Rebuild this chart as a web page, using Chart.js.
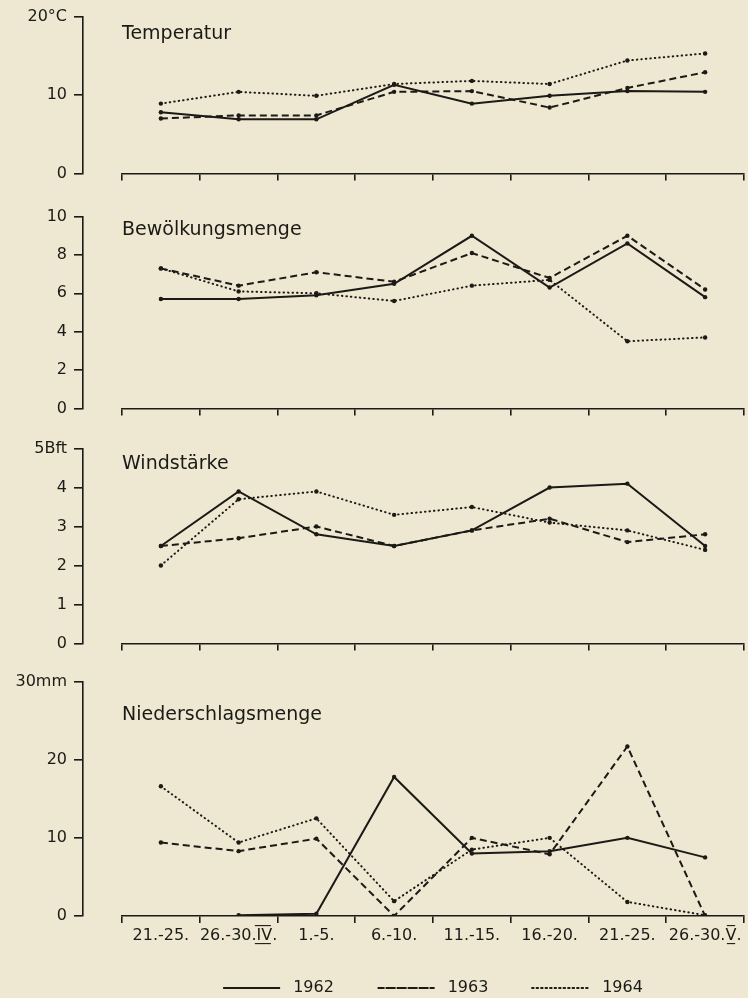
<!DOCTYPE html>
<html>
<head>
<meta charset="utf-8">
<script src="https://cdn.jsdelivr.net/npm/chart.js@4.4.1/dist/chart.umd.min.js"></script>
<style>
  body { margin: 0; background: #eee7d1; width: 748px; height: 998px; position: relative; overflow: hidden; }
  canvas { position: absolute; left: 0; }
</style>
</head>
<body>
<canvas id="temp"></canvas>
<canvas id="cloud"></canvas>
<canvas id="wind"></canvas>
<canvas id="rain"></canvas>
<script>
// periods (late April to end of May)
const categories = ["21.-25.", "26.-30.I\u0332\u0305V\u0332\u0305.", "1.-5.", "6.-10.", "11.-15.", "16.-20.", "21.-25.", "26.-30.V\u0332\u0305."];
const years = ["1962", "1963", "1964"];

const temp1962 = [7.8, 6.9, 6.9, 11.3, 8.9, 9.9, 10.5, 10.4];
const temp1963 = [7.0, 7.4, 7.4, 10.4, 10.5, 8.4, 10.9, 12.9];
const temp1964 = [8.9, 10.4, 9.9, 11.4, 11.8, 11.4, 14.4, 15.3];

const cloud1962 = [5.7, 5.7, 5.9, 6.5, 9.0, 6.3, 8.6, 5.8];
const cloud1963 = [7.3, 6.4, 7.1, 6.6, 8.1, 6.8, 9.0, 6.2];
const cloud1964 = [7.3, 6.1, 6.0, 5.6, 6.4, 6.7, 3.5, 3.7];

const wind1962 = [2.5, 3.9, 2.8, 2.5, 2.9, 4.0, 4.1, 2.5];
const wind1963 = [2.5, 2.7, 3.0, 2.5, 2.9, 3.2, 2.6, 2.8];
const wind1964 = [2.0, 3.7, 3.9, 3.3, 3.5, 3.1, 2.9, 2.4];

const rain1962 = [null, 0.1, 0.3, 17.8, 8.0, 8.3, 10.0, 7.5];
const rain1963 = [9.4, 8.3, 9.9, 0, 10.0, 7.9, 21.7, 0];
const rain1964 = [16.6, 9.4, 12.5, 1.9, 8.5, 10.0, 1.8, 0.1];

const ink = "#1b1a17";
Chart.defaults.font.family = '"DejaVu Sans", sans-serif';
Chart.defaults.font.size = 16;
Chart.defaults.color = ink;

const styles = [
    { borderDash: [], capStyle: "butt" },
    { borderDash: [7, 4], capStyle: "butt" },
    { borderDash: [0.5, 4], capStyle: "round" }
];

// title text sits inside the plot, under the top tick
const panelTitle = {
    id: "panelTitle",
    afterDraw(chart, args, opts) {
        const { ctx, chartArea } = chart;
        ctx.save();
        ctx.font = '19px "DejaVu Sans"';
        ctx.fillStyle = ink;
        ctx.textBaseline = "middle";
        ctx.fillText(opts.text, chartArea.left, chartArea.top + opts.dy);
        ctx.restore();
    }
};

function makePanel(id, title, dy, series, yMax, step, unit, top, height, padTop, last) {
    const cv = document.getElementById(id);
    cv.width = 748;
    cv.height = height;
    cv.style.top = top + "px";
    const datasets = series.map((vals, i) => ({
        label: years[i],
        data: vals,
        borderColor: ink,
        backgroundColor: "transparent",
        borderWidth: 2,
        borderDash: styles[i].borderDash,
        borderCapStyle: styles[i].capStyle,
        pointRadius: 2.2,
        pointBackgroundColor: ink,
        pointBorderWidth: 0,
        fill: false,
        tension: 0,
        spanGaps: false
    }));
    return new Chart(cv, {
        type: "line",
        data: { labels: categories, datasets: datasets },
        options: {
            responsive: false,
            devicePixelRatio: 1,
            animation: false,
            layout: { padding: { top: padTop, left: 0, right: 2, bottom: last ? 0 : 3 } },
            scales: {
                x: {
                    offset: true,
                    border: { display: true, color: ink, width: 1.6 },
                    grid: { display: true, offset: true, drawOnChartArea: false, drawTicks: true, tickLength: 7, color: ink, lineWidth: 1.6 },
                    ticks: { display: last, padding: 3, maxRotation: 0, autoSkip: false, font: { size: 16 } },
                    afterFit: last ? (s) => { s.height = 61; } : undefined
                },
                y: {
                    position: "left",
                    weight: 10,
                    min: 0,
                    max: yMax,
                    border: { display: true, color: ink, width: 1.6 },
                    grid: { display: true, drawOnChartArea: false, drawTicks: true, tickLength: 9, color: ink, lineWidth: 1.6 },
                    ticks: {
                        stepSize: step,
                        padding: 7,
                        font: { size: 16 },
                        callback: (v) => v === yMax ? v + unit : v
                    },
                    afterFit: (s) => { s.width = 83; }
                },
                gap: {
                    type: "linear",
                    position: "left",
                    weight: 0,
                    display: true,
                    border: { display: false },
                    grid: { display: false },
                    ticks: { display: false },
                    afterFit: (s) => { s.width = 39; }
                }
            },
            plugins: {
                panelTitle: { text: title, dy: dy },
                tooltip: { enabled: false },
                legend: {
                    display: last,
                    position: "bottom",
                    fullSize: false,
                    labels: {
                        boxWidth: 57,
                        boxHeight: 0,
                        padding: 3,
                        color: ink,
                        font: { size: 16 },
                        generateLabels: (chart) => {
                            const items = Chart.defaults.plugins.legend.labels.generateLabels(chart);
                            items.forEach((it, i) => {
                                it.text = " " + it.text + (i < items.length - 1 ? "        " : "");
                                it.lineWidth = 2;
                            });
                            return items;
                        }
                    }
                }
            }
        },
        plugins: [panelTitle]
    });
}

makePanel("temp", "Temperatur", 17, [temp1962, temp1963, temp1964], 20, 10, "°C", 0, 190, 16, false);
makePanel("cloud", "Bewölkungsmenge", 13, [cloud1962, cloud1963, cloud1964], 10, 2, "", 200, 225, 14, false);
makePanel("wind", "Windstärke", 15, [wind1962, wind1963, wind1964], 5, 1, "Bft", 432, 228, 14, false);
makePanel("rain", "Niederschlagsmenge", 33, [rain1962, rain1963, rain1964], 30, 10, "mm", 665, 341, 14, true);
</script>
</body>
</html>
